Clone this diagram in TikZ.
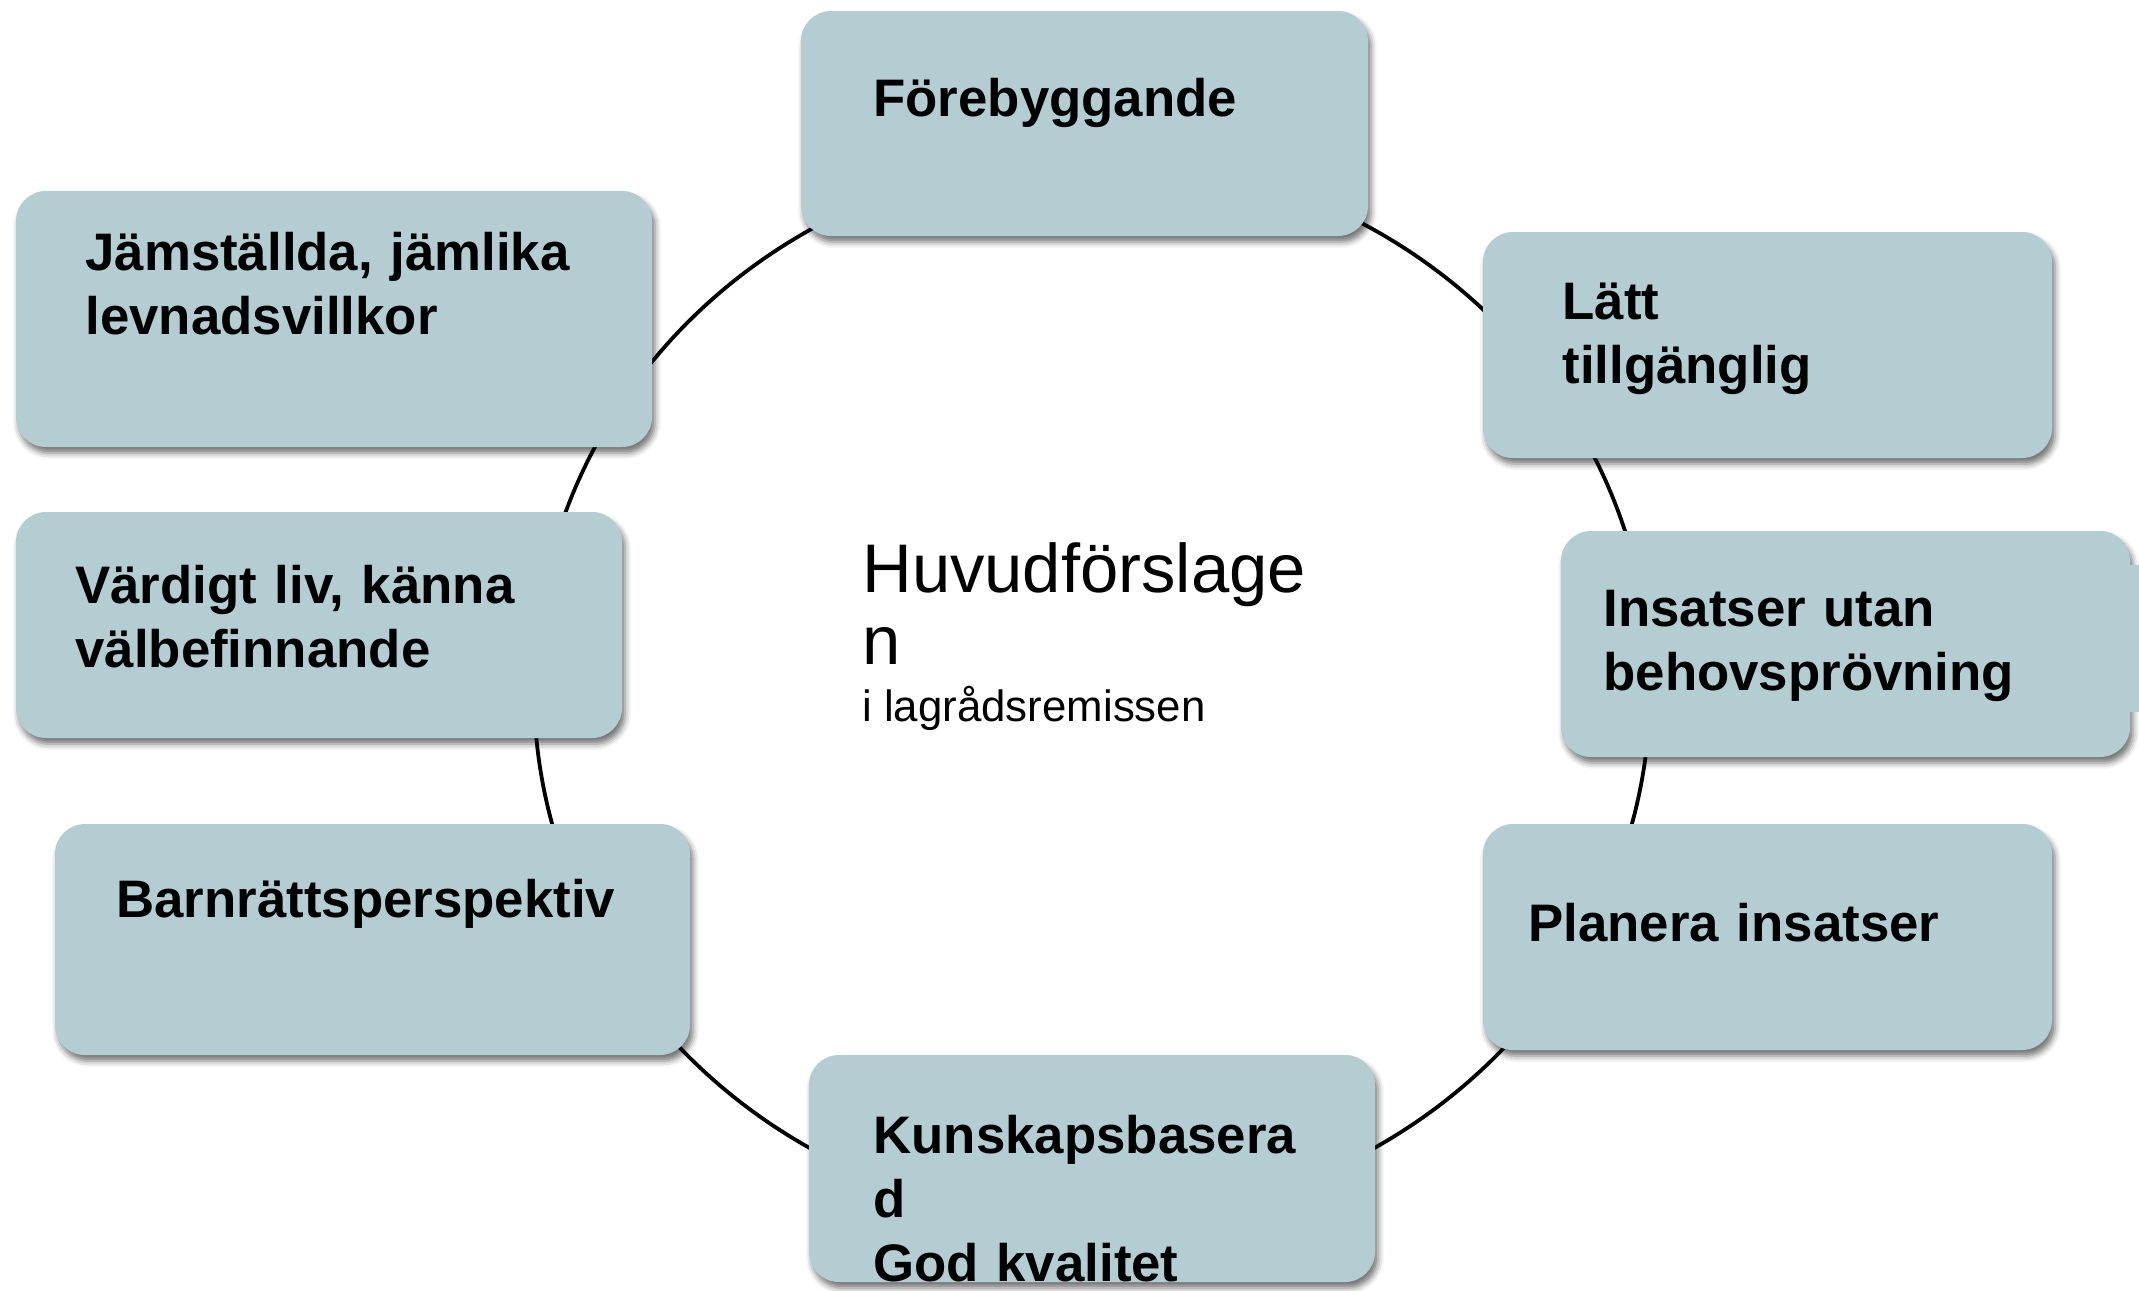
\documentclass[tikz,border=0pt]{standalone}
\usepackage{fontspec}
\setmainfont{Liberation Sans}
\usetikzlibrary{shadows.blur,fit}
\definecolor{boxfill}{RGB}{180,205,211}
\begin{document}
\begin{tikzpicture}[x=0.5pt,y=-0.5pt,
  card/.style={draw=none, fill=boxfill, rounded corners=15pt, inner sep=0pt,
    blur shadow={shadow xshift=1.5pt, shadow yshift=-3pt, shadow blur radius=3pt, shadow opacity=55}},
  lbl/.style={anchor=base west, inner sep=0pt, text width=300pt, align=left,
    font=\fontsize{26.4}{32}\selectfont\bfseries},
  ring/.style={line width=1.9pt, draw=black}
]
\useasboundingbox (0,0) rectangle (2139,1290);
\draw[ring] (1092,689) ellipse [x radius=558, y radius=532];

\node[card, fit={(801,11) (1368,236)}] (b1) {};
\node[card, fit={(16,191) (652,447)}] (b2) {};
\node[card, fit={(1483,232) (2052,458)}] (b3) {};
\node[card, fit={(16,512) (622,738)}] (b4) {};
\node[card, fit={(1561,531) (2130,757)}] (b5) {};
\fill[boxfill] (2100,565) rectangle (2139,712);
\node[card, fit={(55,824) (690,1055)}] (b6) {};
\node[card, fit={(1483,824) (2052,1050)}] (b7) {};
\node[card, fit={(809,1055) (1375,1282)}] (b8) {};

\node[lbl] (t1) at (873,116) {Förebyggande};
\node[lbl] (t2) at (85,270) {Jämställda, jämlika\\levnadsvillkor};
\node[lbl] (t3) at (1562,319) {Lätt\\tillgänglig};
\node[lbl] (t4) at (75,603) {Värdigt liv, känna\\välbefinnande};
\node[lbl] (t5) at (1603,626) {Insatser utan\\behovsprövning};
\node[lbl] (t6) at (116,917) {Barnrättsperspektiv};
\node[lbl] (t7) at (1528,941) {Planera insatser};
\begin{scope}
  \clip (809,1055) rectangle (1375,1282);
  \node[lbl] (t8) at (873,1153) {Kunskapsbasera\\d\\God kvalitet};
\end{scope}

\node[anchor=base west, inner sep=0pt, text width=300pt, align=left,
  font=\fontsize{34.4}{36}\selectfont] (c1) at (862,592) {Huvudförslage\\n};
\node[anchor=base west, inner sep=0pt,
  font=\fontsize{21.9}{26}\selectfont] (c2) at (862,721) {i lagrådsremissen};
\end{tikzpicture}
\end{document}
